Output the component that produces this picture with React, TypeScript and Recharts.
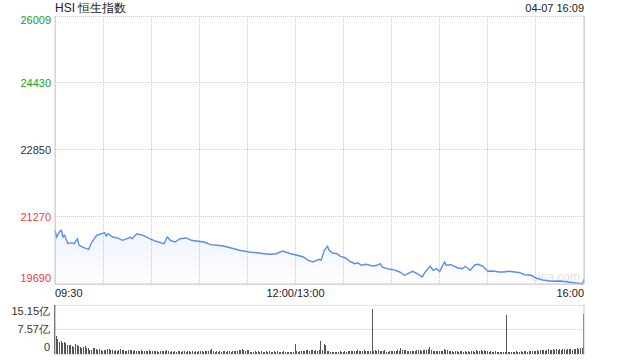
import React from 'react';
import { ComposedChart, Area, XAxis, YAxis, CartesianGrid, BarChart, Bar } from 'recharts';

const prevClose = 22850;
const priceTicks = [19690, 21270, 22850, 24430, 26009];
const pctLabels = ['-13.83%', '-6.91%', '0.00%', '+6.91%', '+13.83%'];
const timeTicks = [0, 30, 60, 90, 120, 150, 180, 210, 240, 270, 300, 330];
const timeLabels: Record<number, string> = { 0: '09:30', 150: '12:00/13:00', 330: '16:00' };

// minutes since 09:30 (lunch break removed)
const minutes = [
  0, 1, 3, 4, 5, 6, 8, 10, 12, 14, 15, 18, 21, 23, 26, 29, 31, 32, 33, 36,
  39, 42, 45, 47, 48, 51, 55, 59, 63, 68, 70, 72, 75, 78, 82, 85, 88, 93, 97, 101,
  105, 110, 115, 121, 126, 131, 134, 138, 142, 147, 151, 155, 158, 161, 163, 165,
  166, 168, 170, 171, 173, 176, 178, 181, 184, 187, 189, 191, 194, 198, 201, 203,
  204, 207, 211, 215, 218, 223, 226, 229, 231, 234, 236, 238, 240, 243, 244, 247,
  251, 254, 256, 259, 262, 264, 267, 270, 273, 277, 280, 283, 287, 290, 293, 297,
  300, 305, 310, 315, 320, 324, 329, 330,
];
const prices = [
  20956, 20798, 20933, 20956, 20798, 20838, 20640, 20664, 20640, 20758, 20603, 20546, 20508, 20680, 20838, 20876, 20900, 20822, 20876, 20798,
  20775, 20720, 20758, 20798, 20758, 20876, 20838, 20758, 20697, 20640, 20798, 20720, 20680, 20758, 20775, 20720, 20704, 20680, 20617, 20603,
  20586, 20539, 20485, 20445, 20428, 20404, 20390, 20404, 20468, 20404, 20367, 20327, 20249, 20209, 20249, 20272,
  20249, 20485, 20579, 20485, 20421, 20404, 20343, 20310, 20225, 20169, 20192, 20131, 20155, 20114, 20131, 20169,
  20091, 20051, 20027, 19973, 19895, 19989, 19933, 19855, 19973, 20107, 20013, 20051, 19989, 20209, 20131, 20145,
  20074, 20051, 20107, 20013, 20145, 20155, 20107, 19989, 19997, 19973, 19973, 19989, 19973, 19956, 19909, 19895,
  19831, 19777, 19754, 19761, 19737, 19721, 19697, 19801,
];

// volume per minute, 亿
const volumes = [
  15.15,
  5.7, 4.6, 3.6, 3.9, 3.4, 3.6, 3.4, 2.9, 2.7, 2.9,
  2.6, 2.1, 3.2, 2.9, 2.4, 2.1, 2.0, 2.1, 2.4, 1.9,
  1.9, 1.3, 1.3, 1.9, 1.9, 1.5, 1.3, 1.5, 1.3, 1.0,
  1.1, 1.3, 1.5, 1.5, 1.3, 1.1, 0.8, 1.2, 1.0, 1.3,
  1.4, 1.1, 1.2, 1.0, 0.9, 1.1, 1.3, 1.2, 1.0, 1.1,
  0.9, 1.0, 0.8, 1.1, 0.9, 1.0, 0.8, 0.9, 1.2, 0.8,
  0.9, 1.0, 0.8, 0.9, 0.7, 0.8, 1.0, 0.9, 0.8, 1.3,
  0.8, 0.7, 0.9, 0.6, 0.8, 0.7, 0.9, 0.8, 0.6, 0.9,
  0.8, 0.7, 0.9, 0.8, 0.7, 0.9, 0.6, 0.8, 0.7, 0.8,
  0.9, 0.8, 0.7, 1.0, 0.9, 0.8, 1.1, 1.4, 0.8, 0.7,
  0.9, 0.6, 0.8, 0.7, 0.9, 0.8, 0.7, 0.9, 0.8, 0.7,
  0.9, 0.8, 1.0, 0.9, 1.3, 1.2, 1.4, 1.3, 0.9, 1.3,
  1.2, 0.7, 0.6, 0.7, 0.8, 0.6, 0.9, 0.7, 0.8, 0.6,
  0.7, 0.9, 0.6, 0.8, 0.7, 0.6, 0.8, 0.7, 0.9, 0.6,
  0.7, 0.6, 0.8, 0.7, 0.6, 0.7, 0.6, 0.7, 0.6, 3.2,
  0.9, 0.7, 1.0, 0.8, 1.0, 0.9, 1.1, 1.2, 0.9, 1.3,
  1.2, 0.9, 1.1, 1.0, 1.3, 4.1, 1.2, 3.2, 2.9, 1.0,
  0.8, 0.6, 0.7, 0.5, 0.7, 0.6, 0.7, 0.8, 0.6, 0.7,
  0.8, 0.7, 0.9, 1.0, 0.8, 0.9, 1.0, 0.8, 1.1, 1.0,
  0.9, 1.0, 1.1, 0.9, 1.0, 0.8, 1.0, 14.0, 1.0, 1.1,
  0.9, 1.3, 0.8, 1.0, 0.9, 1.1, 0.6, 0.7, 0.9, 0.8,
  0.9, 1.0, 1.0, 1.2, 1.0, 1.9, 1.1, 1.2, 1.3, 1.0,
  0.8, 0.9, 0.9, 1.0, 1.0, 1.1, 1.2, 1.1, 1.0, 1.3,
  1.2, 1.3, 1.4, 2.3, 1.2, 0.9, 0.8, 1.0, 0.8, 0.9,
  1.0, 0.9, 1.6, 1.2, 1.1, 0.9, 1.0, 0.8, 0.7, 0.8,
  0.9, 0.7, 1.0, 0.8, 0.7, 0.9, 0.7, 0.8, 0.7, 1.0,
  0.8, 0.7, 1.3, 0.9, 0.8, 1.1, 0.9, 1.2, 1.0, 0.8,
  0.7, 0.8, 0.6, 0.7, 0.8, 0.7, 0.6, 0.7, 0.6, 0.7,
  0.6, 12.2, 0.6, 0.5, 0.6, 0.7, 0.6, 0.8, 0.6, 0.7,
  0.8, 0.7, 0.9, 0.8, 0.7, 0.9, 1.0, 0.8, 1.0, 0.9,
  1.1, 1.0, 1.2, 1.1, 1.3, 1.0, 1.2, 1.4, 1.1, 1.3,
  1.5, 1.2, 1.4, 1.3, 1.5, 1.2, 1.4, 1.6, 1.3, 1.5,
  1.4, 1.6, 1.3, 1.7, 1.5, 1.8, 1.6, 1.9, 1.8, 12.5,
];
const volTicks = [0, 7.57, 15.15];
const volLabels = ['0', '7.57亿', '15.15亿'];

const priceData = minutes.map((m, i) => ({ m, price: prices[i] }));
const volData = volumes.map((v, i) => ({ m: i, vol: v }));

const FONT = '"Liberation Sans", Arial, sans-serif';
const GREEN = '#20a020';
const RED = '#f03a3a';
const AXIS = '#c8c8c8';

const colorOf = (v: number) => (v > prevClose ? GREEN : v < prevClose ? RED : '#333');
const edgeShift = (v: number) => (v === priceTicks[priceTicks.length - 1] ? 4 : v === priceTicks[0] ? -6 : 0);

const LeftTick = (props: any) => {
  const v = props.payload.value;
  return (
    <text x={51} y={props.y + edgeShift(v)} dy="0.35em" textAnchor="end" fontSize={11} fontFamily={FONT} fill={colorOf(v)}>
      {v}
    </text>
  );
};

const RightTick = (props: any) => {
  const v = props.payload.value;
  const i = priceTicks.indexOf(v);
  return (
    <text x={590} y={props.y + edgeShift(v)} dy="0.35em" textAnchor="start" fontSize={11} fontFamily={FONT} fill={colorOf(v)}>
      {pctLabels[i]}
    </text>
  );
};

const TimeTick = (props: any) => {
  const v = props.payload.value;
  const label = timeLabels[v];
  if (!label) return <g />;
  const anchor = v === 0 ? 'start' : v === 330 ? 'end' : 'middle';
  return (
    <text x={props.x} y={297} textAnchor={anchor} fontSize={11} fontFamily={FONT} fill="#222">
      {label}
    </text>
  );
};

const VolTick = (props: any) => {
  const v = props.payload.value;
  const i = volTicks.indexOf(v);
  const shift = i === 2 ? 6.5 : i === 0 ? -7 : 0;
  return (
    <text x={50} y={props.y + shift} dy="0.35em" textAnchor="end" fontSize={11} fontFamily={FONT} fill="#333">
      {volLabels[i]}
    </text>
  );
};

export default function App() {
  return (
    <div style={{ position: 'absolute', left: 0, top: 0, width: 640, height: 360, background: '#fff', fontFamily: FONT }}>
      <div style={{ position: 'absolute', left: 55, top: 0, fontSize: 12, lineHeight: '16px', color: '#222' }}>HSI 恒生指数</div>
      <div style={{ position: 'absolute', right: 56, top: 1, fontSize: 11, lineHeight: '14px', color: '#222' }}>04-07 16:09</div>
      <div style={{ position: 'absolute', left: 532, top: 270, fontSize: 12, color: '#e2e2e2' }}>sina.com</div>

      <div style={{ position: 'absolute', left: 0, top: 0 }}>
        <ComposedChart width={640} height={300} data={priceData} margin={{ top: 16, right: 0, bottom: 0, left: 0 }}>
          <defs>
            <linearGradient id="fillPrice" x1="0" y1="0" x2="0" y2="1">
              <stop offset="0%" stopColor="#5b8def" stopOpacity={0.1} />
              <stop offset="100%" stopColor="#5b8def" stopOpacity={0.01} />
            </linearGradient>
          </defs>
          <CartesianGrid yAxisId="l" stroke="#cccccc" strokeDasharray="1 1" shapeRendering="crispEdges" />
          <XAxis
            dataKey="m"
            type="number"
            domain={[0, 330]}
            ticks={timeTicks}
            height={16}
            tickLine={false}
            axisLine={{ stroke: AXIS }}
            tick={TimeTick}
            interval={0}
          />
          <YAxis
            yAxisId="l"
            orientation="left"
            width={55}
            domain={[priceTicks[0], priceTicks[4]]}
            ticks={priceTicks}
            tickLine={false}
            axisLine={{ stroke: AXIS }}
            tick={LeftTick}
            interval={0}
          />
          <YAxis
            yAxisId="r"
            orientation="right"
            width={56}
            domain={[priceTicks[0], priceTicks[4]]}
            ticks={priceTicks}
            tickLine={false}
            axisLine={{ stroke: AXIS }}
            tick={RightTick}
            interval={0}
          />
          <Area
            yAxisId="l"
            type="linear"
            dataKey="price"
            stroke="#5b8def"
            strokeWidth={1.4}
            fill="url(#fillPrice)"
            fillOpacity={1}
            dot={false}
            activeDot={false}
            isAnimationActive={false}
          />
        </ComposedChart>
      </div>

      <div style={{ position: 'absolute', left: 0, top: 300 }}>
        <BarChart width={640} height={60} data={volData} margin={{ top: 5, right: 0, bottom: 6, left: 0 }}>
          <CartesianGrid yAxisId="l" stroke="#cccccc" strokeDasharray="1 1" vertical={false} shapeRendering="crispEdges" />
          <XAxis dataKey="m" type="number" domain={[0, 330]} hide />
          <YAxis
            yAxisId="l"
            orientation="left"
            width={55}
            domain={[0, 15.15]}
            ticks={volTicks}
            tickLine={false}
            axisLine={{ stroke: '#999' }}
            tick={VolTick}
            interval={0}
          />
          <YAxis yAxisId="r" orientation="right" width={56} domain={[0, 1]} tick={false} tickLine={false} axisLine={{ stroke: AXIS }} />
          <Bar yAxisId="l" dataKey="vol" fill="#555" barSize={1} shapeRendering="crispEdges" isAnimationActive={false} />
        </BarChart>
      </div>
    </div>
  );
}
